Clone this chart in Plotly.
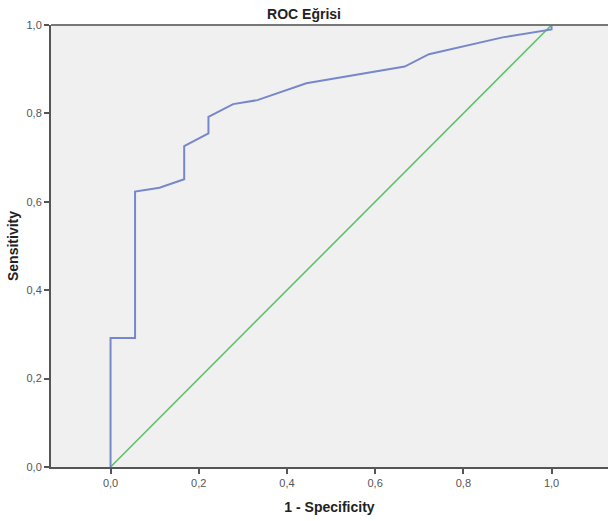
import plotly.graph_objects as go

fpr = [0.0, 0.0, 0.0556, 0.0556, 0.111, 0.167, 0.167, 0.222, 0.222, 0.278, 0.333, 0.444, 0.667, 0.722, 0.889, 1.0, 1.0]
tpr = [0.0, 0.292, 0.292, 0.623, 0.632, 0.651, 0.726, 0.755, 0.792, 0.821, 0.830, 0.868, 0.906, 0.934, 0.972, 0.99, 1.0]
ref_x = [0.0, 1.0]
ref_y = [0.0, 1.0]
tick_vals = [0.0, 0.2, 0.4, 0.6, 0.8, 1.0]

fig = go.Figure()
fig.add_trace(go.Scatter(x=ref_x, y=ref_y, mode="lines",
                         line=dict(color="#5cc46a", width=1.6), showlegend=False))
fig.add_trace(go.Scatter(x=fpr, y=tpr, mode="lines",
                         line=dict(color="#7787cc", width=2), showlegend=False))

font = "Liberation Sans, Arial, sans-serif"
fig.update_layout(
    width=608, height=521,
    margin=dict(l=51, r=0, t=25, b=54),
    paper_bgcolor="white", plot_bgcolor="#f0f0f0",
    separators=",.",
    font=dict(family=font, color="#333"),
    title=dict(text="<b>ROC Eğrisi</b>", x=0.5, xanchor="center", y=0.973, yanchor="middle",
               font=dict(size=14, color="#222", family=font)),
    xaxis=dict(range=[-0.135, 1.128], tickvals=tick_vals, tickformat=".1f",
               showgrid=False, zeroline=False, showline=True, linecolor="#555", linewidth=2,
               ticks="outside", ticklen=5, tickwidth=2, tickcolor="#555",
               tickfont=dict(size=11, color="#555"),
               title=dict(text="<b>1 - Specificity</b>", font=dict(size=14, color="#222"), standoff=14)),
    yaxis=dict(range=[0, 1], tickvals=tick_vals, tickformat=".1f",
               showgrid=False, zeroline=False, showline=True, linecolor="#555", linewidth=2,
               ticks="outside", ticklen=5, tickwidth=2, tickcolor="#555",
               tickfont=dict(size=11, color="#555"),
               title=dict(text="<b>Sensitivity</b>", font=dict(size=14, color="#222"), standoff=5)),
    shapes=[dict(type="line", xref="paper", yref="paper", x0=0, x1=1, y0=1, y1=1,
                 line=dict(color="#777", width=2))],
)

fig.write_html("out.html", config={"displayModeBar": False},
               post_script="document.body.style.margin='0px';document.body.style.overflow='hidden';")
